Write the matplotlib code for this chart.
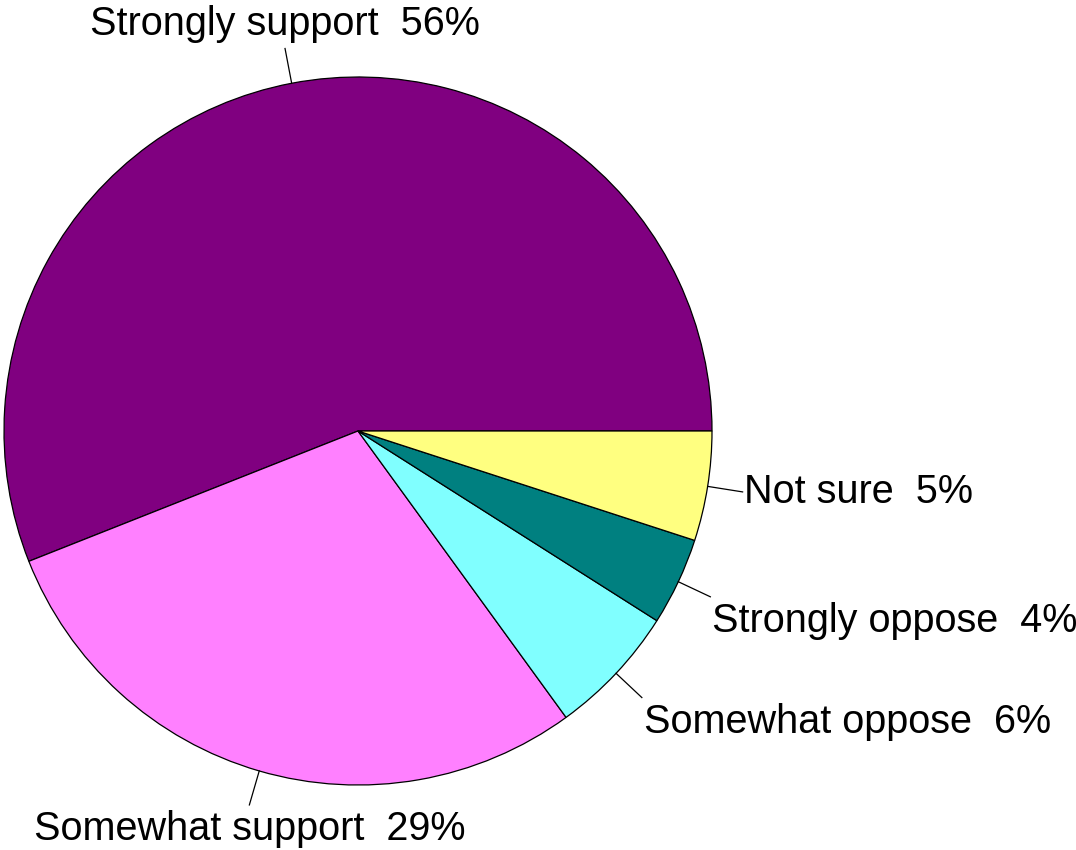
import numpy as np
import matplotlib.pyplot as plt

# survey answers, in drawing order (counterclockwise from 3 o'clock)
labels = ["Strongly support", "Somewhat support", "Somewhat oppose",
          "Strongly oppose", "Not sure"]
shares = [56, 29, 6, 4, 5]
colors = ["#800080", "#FF80FF", "#80FFFF", "#008080", "#FFFF80"]

# label alignment per slice (ha, va)
aligns = [("center", "bottom"), ("center", "top"), ("left", "top"),
          ("left", "top"), ("left", "center")]

plt.rcParams['font.family'] = ['Liberation Sans', 'DejaVu Sans']

W, H = 1076, 850
cx, cy, R = 358, 431, 354  # pie centre / radius in pixels

fig = plt.figure(figsize=(W / 100, H / 100), dpi=100)
ax = fig.add_axes([0, 0, 1, 1])

ax.pie(shares, colors=colors, startangle=0, counterclock=True,
       radius=1.0, center=(0, 0), frame=True,
       wedgeprops=dict(edgecolor='black', linewidth=0.9))
ax.set_xlim(-cx / R, (W - cx) / R)
ax.set_ylim(-(H - cy) / R, cy / R)
ax.set_aspect('equal')
ax.axis('off')

total = sum(shares)
start = 0.0
for lab, val, (ha, va) in zip(labels, shares, aligns):
    ang = np.deg2rad(start + 360.0 * val / total / 2)
    start += 360.0 * val / total
    x0, y0 = np.cos(ang), np.sin(ang)
    ax.plot([x0, 1.1 * x0], [y0, 1.1 * y0], color='black', lw=0.9)
    tx, ty = 1.1 * x0, 1.1 * y0
    if ha == "left":
        tx += 0.005
    if va == "bottom":
        ty += 0.015
    elif va == "top":
        ty -= 0.015
    ax.text(tx, ty, f"{lab}  {val}%", ha=ha, va=va, fontsize=28.5)

fig.savefig("out.png", dpi=100)
